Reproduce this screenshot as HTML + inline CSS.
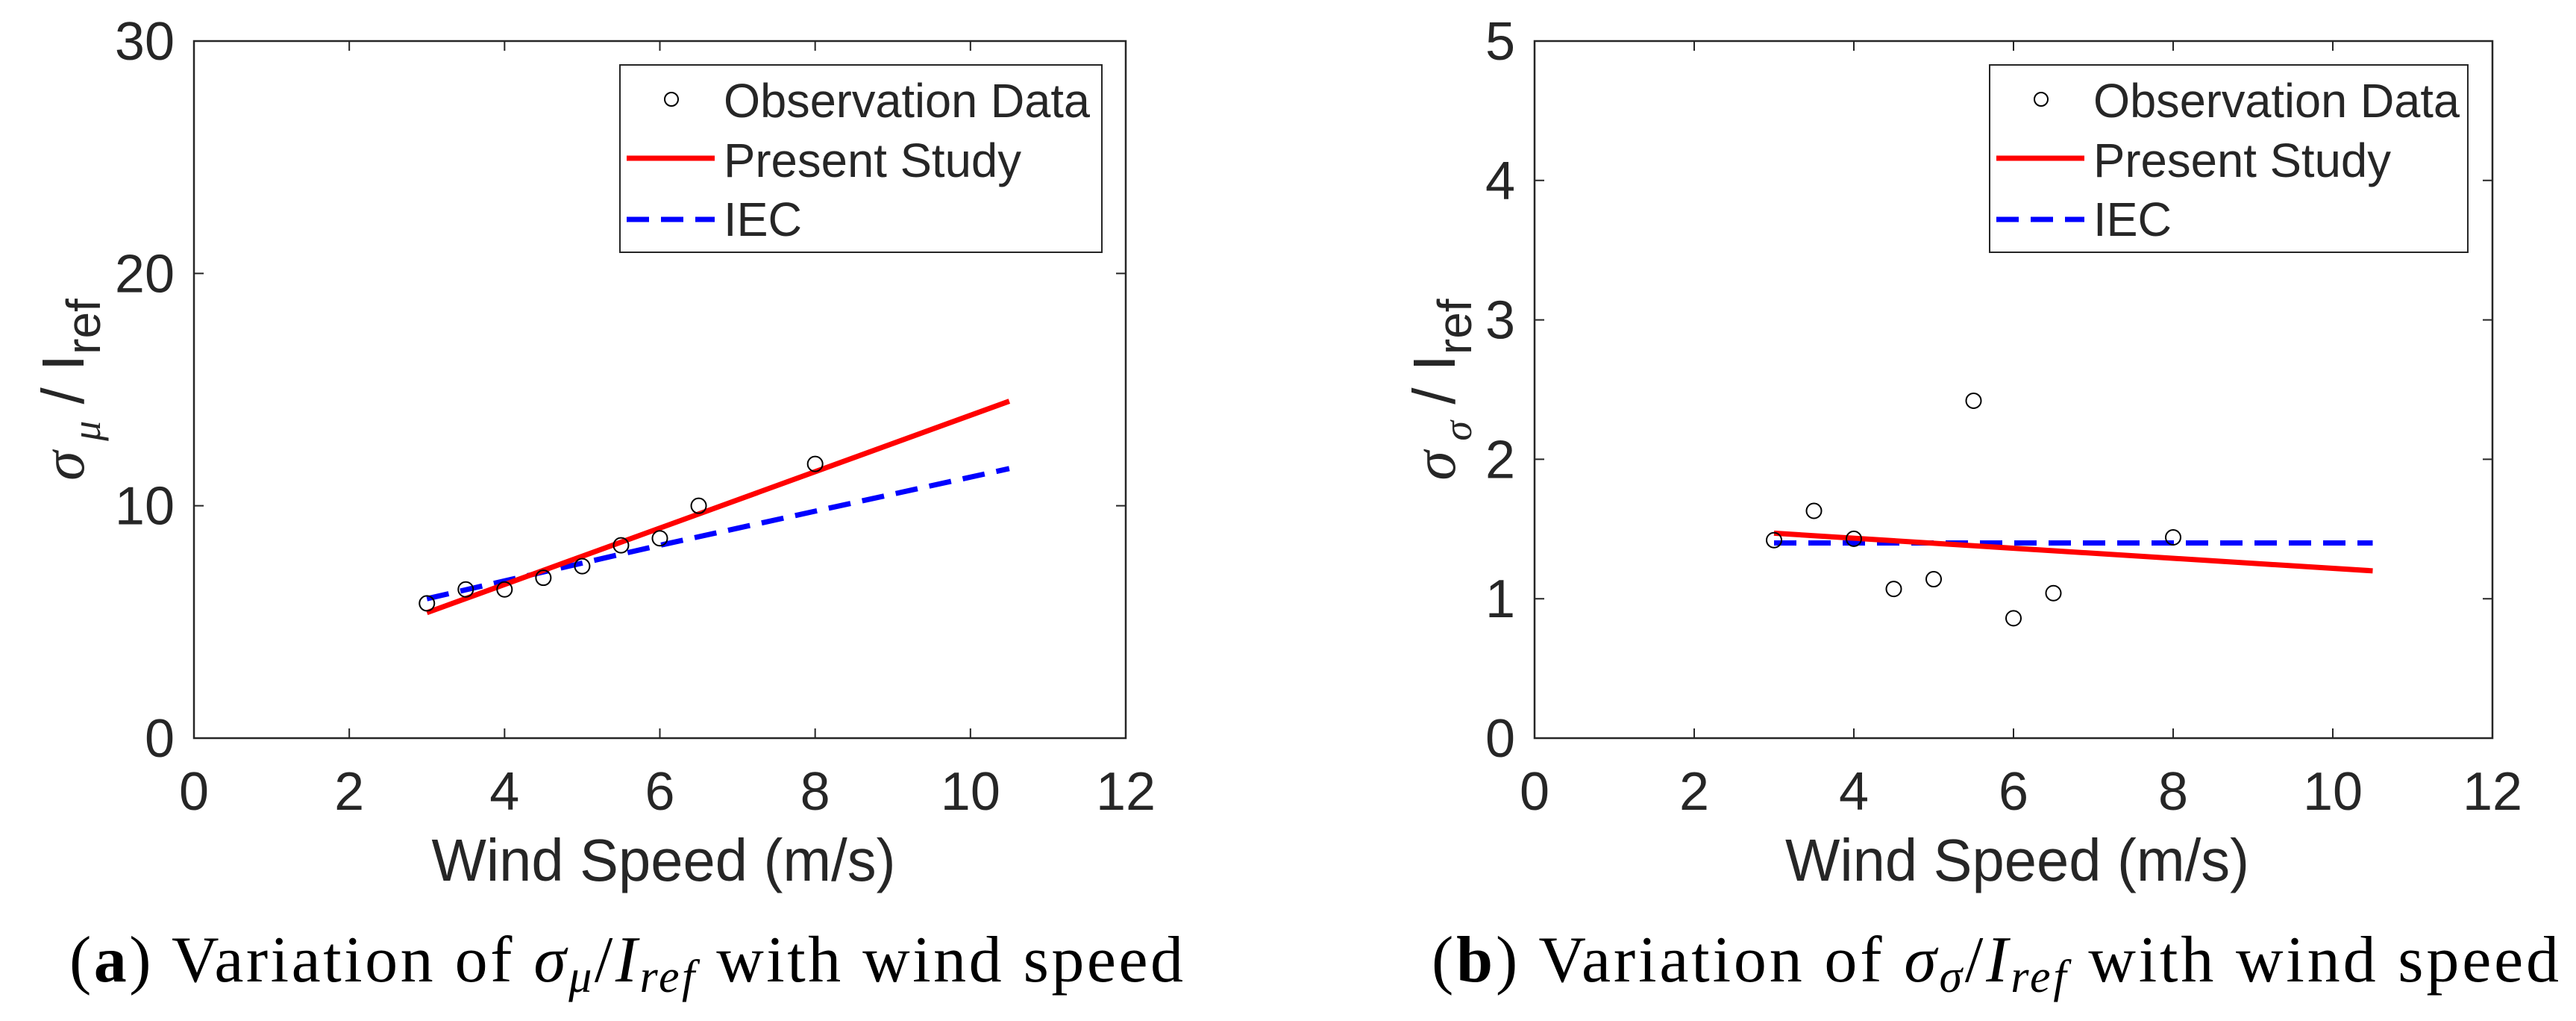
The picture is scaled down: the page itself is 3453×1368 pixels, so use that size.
<!DOCTYPE html>
<html><head><meta charset="utf-8">
<style>
html,body{margin:0;padding:0;background:#fff;}
svg{display:block;}
text{font-family:"Liberation Sans",sans-serif;fill:#262626;}
.cap{font-family:"Liberation Serif",serif;fill:#000;font-size:88px;}
</style></head>
<body>
<svg id="fig" width="3453" height="1368" viewBox="0 0 3453 1368" xmlns="http://www.w3.org/2000/svg">
  <g id="panelA"></g>
  <g id="panelB"></g>
  <text class="cap" x="93" y="1315" textLength="1493" lengthAdjust="spacing">(<tspan font-weight="bold">a</tspan>) Variation of  <tspan font-style="italic">σ</tspan><tspan font-style="italic" font-size="62" dy="14">μ</tspan><tspan dy="-14">/</tspan><tspan font-style="italic">I</tspan><tspan font-style="italic" font-size="62" dy="14">ref</tspan><tspan dy="-14">  with wind speed</tspan></text>
  <text class="cap" x="1919" y="1315" textLength="1511" lengthAdjust="spacing">(<tspan font-weight="bold">b</tspan>) Variation of  <tspan font-style="italic">σ</tspan><tspan font-style="italic" font-size="62" dy="14">σ</tspan><tspan dy="-14">/</tspan><tspan font-style="italic">I</tspan><tspan font-style="italic" font-size="62" dy="14">ref</tspan><tspan dy="-14">  with wind speed</tspan></text>
</svg>
<script>
// Data
const obsX = [3, 3.5, 4, 4.5, 5, 5.5, 6, 6.5, 8];
const obsA = [5.8, 6.4, 6.4, 6.9, 7.4, 8.3, 8.6, 10.0, 11.8];
const studyAX = [3, 10.5];
const studyAY = [5.4, 14.5];
const iecAX = [3, 6, 10.5];
const iecAY = [6.0, 8.3, 11.6];
const obsB = [1.42, 1.63, 1.43, 1.07, 1.14, 2.42, 0.86, 1.04, 1.44];
const studyBX = [3, 10.5];
const studyBY = [1.47, 1.20];
const iecBX = [3, 10.5];
const iecBY = [1.40, 1.40];
const xTicks = [0, 2, 4, 6, 8, 10, 12];
const yTicksA = [0, 10, 20, 30];
const yTicksB = [0, 1, 2, 3, 4, 5];
const legendLabels = ["Observation Data", "Present Study", "IEC"];

const NS = "http://www.w3.org/2000/svg";
function mk(parent, tag, attrs, txt) {
  const e = document.createElementNS(NS, tag);
  for (const k in attrs) e.setAttribute(k, attrs[k]);
  if (txt !== undefined) e.textContent = txt;
  parent.appendChild(e);
  return e;
}

function drawPanel(g, cfg) {
  const {x0, x1, y0, y1, ymax, yTicks, obs, sx, sy, ix, iy, sub, legL, legR, ylabX} = cfg;
  const X = v => x0 + (v / 12) * (x1 - x0);
  const Y = v => y1 - (v / ymax) * (y1 - y0);
  xTicks.forEach(t => {
    const tk = mk(g, "path", {d: `M${X(t)},${y1}v-13M${X(t)},${y0}v13`, stroke: "#262626", "stroke-width": 2, fill: "none"});
    
    
    const lb = mk(g, "text", {x: X(t), y: 1085, "font-size": 72, "text-anchor": "middle"}, String(t));
    
    
  });
  yTicks.forEach(t => {
    const tk = mk(g, "path", {d: `M${x0},${Y(t)}h13M${x1},${Y(t)}h-13`, stroke: "#262626", "stroke-width": 2, fill: "none"});
    
    
    const lb = mk(g, "text", {x: x0 - 26, y: Y(t) + 25, "font-size": 72, "text-anchor": "end"}, String(t));
    
    
  });
  const box = mk(g, "rect", {x: x0, y: y0, width: x1 - x0, height: y1 - y0, fill: "none", stroke: "#262626", "stroke-width": 2.5});
  
  
  const iecPts = ix.map((v, i) => `${X(v)},${Y(iy[i])}`).join(" ");
  const iec = mk(g, "polyline", {points: iecPts, fill: "none", stroke: "#0000ff", "stroke-width": 7, "stroke-dasharray": "30 16"});
  
  
  const stPts = sx.map((v, i) => `${X(v)},${Y(sy[i])}`).join(" ");
  const st = mk(g, "polyline", {points: stPts, fill: "none", stroke: "#ff0000", "stroke-width": 7});
  
  
  obsX.forEach((v, i) => {
    const c = mk(g, "circle", {cx: X(v), cy: Y(obs[i]), r: 10, fill: "none", stroke: "#000", "stroke-width": 2});
    
    
  });
  const lg = mk(g, "g", {});
  
  
  mk(lg, "rect", {x: legL, y: 87, width: legR - legL, height: 251, fill: "#fff", stroke: "#262626", "stroke-width": 2});
  const mc = mk(lg, "circle", {cx: legL + 69, cy: 133, r: 9, fill: "none", stroke: "#000", "stroke-width": 2});
  
  
  const rl = mk(lg, "line", {x1: legL + 9, x2: legL + 127, y1: 212, y2: 212, stroke: "#ff0000", "stroke-width": 7});
  
  
  const bl = mk(lg, "line", {x1: legL + 9, x2: legL + 127, y1: 294, y2: 294, stroke: "#0000ff", "stroke-width": 7, "stroke-dasharray": "30 16"});
  
  
  const ys = [157, 237, 316];
  const widths = [491, 399, 105];
  legendLabels.forEach((s, i) => {
    const t = mk(lg, "text", {x: legL + 139, y: ys[i], "font-size": 64, fill: "#000", textLength: widths[i], lengthAdjust: "spacingAndGlyphs"}, s);
    
    
  });
  const xt = mk(g, "text", {x: (x0 + x1) / 2 + 5, y: 1180, "font-size": 80, "text-anchor": "middle", textLength: 622, lengthAdjust: "spacingAndGlyphs"}, "Wind Speed (m/s)");
  
  
  const yt = mk(g, "text", {transform: `translate(${ylabX},${(y0 + y1) / 2}) rotate(-90)`, "font-size": 80, "text-anchor": "middle"});
  
  
  mk(yt, "tspan", {"font-family": "Liberation Serif, serif", "font-style": "italic"}, "σ");
  mk(yt, "tspan", {"font-family": "Liberation Serif, serif", "font-style": "italic", "font-size": 54, dy: 22}, " " + sub);
  mk(yt, "tspan", {dy: -22}, "  / I");
  mk(yt, "tspan", {"font-size": 64, dy: 22}, "ref");
}

drawPanel(document.getElementById("panelA"), {
  x0: 260, x1: 1509, y0: 55, y1: 989, ymax: 30, yTicks: yTicksA, obs: obsA,
  sx: studyAX, sy: studyAY, ix: iecAX, iy: iecAY, sub: "μ", legL: 831, legR: 1477, ylabX: 112
});
drawPanel(document.getElementById("panelB"), {
  x0: 2057, x1: 3341, y0: 55, y1: 989, ymax: 5, yTicks: yTicksB, obs: obsB,
  sx: studyBX, sy: studyBY, ix: iecBX, iy: iecBY, sub: "σ", legL: 2667, legR: 3308, ylabX: 1950
});
</script>
</body></html>
